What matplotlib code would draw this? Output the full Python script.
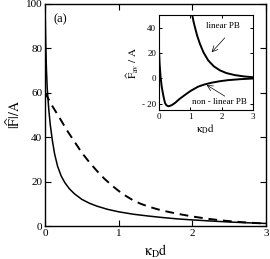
import matplotlib
matplotlib.use("Agg")
import matplotlib.pyplot as plt

# 字体设置：Times 风格
plt.rcParams["font.family"] = ["Liberation Serif", "DejaVu Serif"]
plt.rcParams["mathtext.fontset"] = "stix"

# 主图数据
kd_solid = [0.0, 0.01, 0.02, 0.03, 0.05, 0.07, 0.1, 0.13, 0.17, 0.22, 0.27, 0.33, 0.4,
            0.5, 0.6, 0.7, 0.85, 1.0, 1.2, 1.4, 1.6, 1.8, 2.0, 2.25, 2.5, 2.75, 3.0]
f_solid = [100, 82, 70, 62, 53, 46, 38.5, 32.5, 27, 22.5, 19.5, 16.8, 14.5,
           12.0, 10.3, 9.0, 7.5, 6.4, 5.3, 4.5, 3.8, 3.2, 2.75, 2.25, 1.8, 1.45, 1.15]
kd_dash = [0.0, 0.1, 0.2, 0.3, 0.4, 0.5, 0.6, 0.7, 0.8, 0.9, 1.0, 1.1, 1.2, 1.3, 1.4,
           1.5, 1.6, 1.8, 2.0, 2.2, 2.4, 2.6, 2.8, 3.0]
f_dash = [60, 54, 48.6, 43, 38, 33, 28.8, 25, 21.5, 18.5, 15.8, 13.5, 11.5, 10.0, 8.8,
          7.8, 6.9, 5.5, 4.3, 3.3, 2.5, 1.9, 1.45, 1.1]

# 插图数据
kd_lin = [1.06, 1.1, 1.15, 1.22, 1.31, 1.42, 1.57, 1.75, 1.94, 2.15, 2.42, 2.7, 3.0]
f_lin = [50, 45, 40, 33.5, 27, 20.5, 14.2, 9.5, 6.4, 4.2, 2.6, 1.6, 0.9]
kd_nl = [0.0, 0.02, 0.05, 0.085, 0.14, 0.19, 0.24, 0.3, 0.4, 0.51, 0.65, 0.83, 1.0,
         1.25, 1.45, 1.68, 1.95, 2.2, 2.6, 3.0]
f_nl = [22, 11, 1, -6.5, -14, -19.4, -21.3, -22, -21.2, -19.4, -16.3, -13, -10,
        -6.5, -4.8, -3.4, -2.2, -1.4, -0.6, -0.1]

fig = plt.figure(figsize=(2.70, 2.59), dpi=100)
ax = fig.add_axes([0.1667, 0.1274, 0.8183, 0.8572])
ax.plot(kd_solid, f_solid, color="black", lw=1.1)
ax.plot(kd_dash, f_dash, color="black", lw=1.4, ls=(0, (4.5, 3)))
ax.set_xlim(0, 3)
ax.set_ylim(0, 100)
ax.set_xticks([0, 1, 2, 3])
ax.set_yticks([0, 20, 40, 60, 80, 100])
ax.tick_params(direction="in", top=True, right=True, labelsize=8, length=4, width=0.8, pad=2)
ax.set_xlabel(r"$\mathrm{\kappa_{D}d}$", fontsize=10, labelpad=4)
ax.set_ylabel(r"$|\widehat{\rm F}|/\mathrm{A}$", fontsize=10, labelpad=2)
for s in ax.spines.values():
    s.set_linewidth(1.0)
ax.text(0.04, 0.96, "(a)", transform=ax.transAxes, fontsize=9, va="top")

# 插图
ins = fig.add_axes([0.589, 0.575, 0.348, 0.367])
ins.plot(kd_lin, f_lin, color="black", lw=1.4)
ins.plot(kd_nl, f_nl, color="black", lw=1.4)
ins.set_xlim(0, 3)
ins.set_ylim(-25, 50)
ins.set_xticks([0, 1, 2, 3])
ins.set_yticks([-20, 0, 20, 40])
ins.set_yticklabels(["- 20", "0", "20", "40"])
ins.tick_params(direction="in", top=True, right=True, labelsize=6.5, length=2.5, width=0.7, pad=2)
ins.set_xlabel(r"$\mathrm{\kappa_{D}d}$", fontsize=8, labelpad=1)
ins.set_ylabel(r"$\widehat{\rm F}_{\rm av}\ /\ \mathrm{A}$", fontsize=8, labelpad=1)
for s in ins.spines.values():
    s.set_linewidth(0.8)

# 标注文字与箭头
ins.text(2.05, 41.3, "linear PB", fontsize=6.5, ha="center", va="center")
ins.annotate("", xy=(1.68, 20.6), xytext=(2.1, 32),
             arrowprops=dict(arrowstyle="->", lw=0.5, color="black", shrinkA=0, shrinkB=0))
ins.text(1.94, -18.5, "non - linear PB", fontsize=6.5, ha="center", va="center")
ins.annotate("", xy=(1.52, -5.2), xytext=(2.1, -14),
             arrowprops=dict(arrowstyle="->", lw=0.5, color="black", shrinkA=0, shrinkB=0))

fig.savefig("out.png", dpi=100)
